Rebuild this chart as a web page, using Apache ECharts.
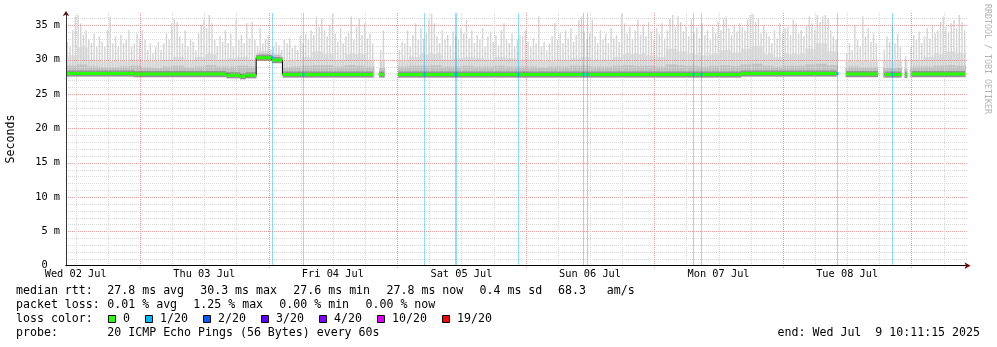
<!DOCTYPE html>
<html>
<head>
<meta charset="utf-8">
<title>Smokeping latency - 7 days</title>
<script src="https://cdn.jsdelivr.net/npm/echarts@6/dist/echarts.min.js"></script>
<style>
  html, body { margin: 0; padding: 0; background: #ffffff; }
  #chart { width: 997px; height: 347px; }
</style>
</head>
<body>
<div id="chart"></div>
<script>
// ---- time frame: hours after the window start (Wed 02 Jul 10:11:15) ----
const SPAN_HOURS = 168;
const SLOT_HOURS = 0.5;      // spacing of the ping-max samples
const BLOCK_HOURS = 2;       // spacing of the smoke body / core samples
const Y_MAX = 36.8;          // ms

const dayLabels = ['Wed 02 Jul', 'Thu 03 Jul', 'Fri 04 Jul', 'Sat 05 Jul', 'Sun 06 Jul', 'Mon 07 Jul', 'Tue 08 Jul'];
const firstNoon = 1.8125;      // Wed 02 Jul 12:00
const firstMidnight = 13.8125; // Thu 03 Jul 00:00

// median rtt in ms: [from hour, to hour, value]; missing stretches are left out
const medianSegments = [
  [0, 12.7, 28.0],
  [12.7, 29.9, 27.9],
  [29.9, 32.5, 27.75],
  [32.5, 33.5, 27.6],
  [33.5, 35.5, 27.75],
  [35.5, 38.4, 30.3],
  [38.4, 40.4, 29.95],
  [40.4, 57.3, 27.85],
  [58.4, 59.4, 27.85],
  [62.0, 126.0, 27.85],
  [126.0, 143.8, 28.0],
  [145.6, 151.6, 27.9],
  [152.8, 155.9, 27.85],
  [156.6, 157.0, 27.8],
  [157.9, 167.8, 27.9]
];

// slowest ping of each half hour (ms); null = no data
const smokeTop = [
  32.6,31.9,34.3,36.3,36.5,35.3,33.6,34.3,32.9,32.4,
  33.8,31.9,33.4,32.6,31.9,34.3,36.3,32.4,33.4,31.9,
  33.6,32.4,32.9,34.3,31.9,32.4,33.8,33.1,34.3,32.9,
  31.4,32.4,30.9,31.9,32.6,31.4,32.4,33.8,32.9,35.3,
  36.0,35.5,33.4,32.4,34.3,31.9,33.1,32.6,31.4,33.8,
  35.1,35.8,34.6,36.5,35.3,32.9,31.9,33.4,32.6,34.3,
  32.4,33.8,31.9,35.8,32.9,33.6,32.4,35.3,33.1,35.5,
  32.9,31.9,34.6,32.4,32.9,33.6,31.4,31.9,32.6,32.1,
  31.4,32.9,32.4,33.1,31.7,32.1,31.4,33.4,32.4,33.8,
  33.1,34.3,33.6,36.3,34.8,36.0,34.3,33.4,35.1,36.7,
  33.8,32.6,34.6,32.4,33.4,34.1,36.3,32.9,34.8,36.0,
  33.6,35.3,33.1,33.8,32.4,null,null,31.4,34.3,null,
  null,null,null,null,31.4,32.6,32.4,34.3,31.9,33.6,
  35.3,32.9,34.6,33.1,33.8,35.8,36.7,35.3,33.4,32.4,
  34.3,32.9,33.6,32.1,34.1,33.4,32.9,34.6,33.8,35.8,
  33.1,34.3,32.4,33.6,32.9,34.6,31.9,33.4,34.1,32.6,
  33.6,32.1,34.3,35.3,33.1,32.4,33.8,31.9,32.9,33.6,
  33.4,34.3,32.6,31.9,33.1,32.4,36.3,31.9,32.6,31.4,
  32.4,33.4,35.3,32.9,33.8,32.4,34.3,33.1,34.6,32.6,
  33.6,35.8,36.3,34.1,32.9,33.8,35.8,33.4,32.4,34.3,
  32.9,33.8,32.4,34.6,33.1,33.6,32.6,36.7,35.3,33.8,
  34.8,33.1,34.3,35.8,33.6,35.1,33.4,35.5,34.1,32.9,
  34.6,33.8,35.3,33.1,34.3,36.0,36.5,34.8,36.3,35.5,
  34.1,35.1,33.4,35.8,33.8,34.6,33.1,35.3,33.6,34.3,
  32.9,34.8,33.8,35.5,34.3,36.0,36.3,34.6,33.6,35.1,
  34.1,35.3,34.8,34.3,35.8,36.5,36.7,35.5,36.0,33.8,
  35.1,34.1,33.4,32.4,34.3,33.1,35.3,33.8,34.6,34.8,
  33.6,35.8,35.3,33.8,34.3,33.4,35.1,36.3,35.3,34.3,
  36.5,35.5,36.3,36.5,36.0,34.3,33.4,32.9,null,null,
  null,30.9,32.4,31.4,35.1,32.9,31.9,36.3,33.4,34.6,
  32.6,33.8,32.4,null,null,31.4,33.4,32.6,35.1,32.4,
  33.8,31.9,null,30.5,null,31.9,33.6,32.9,34.1,32.4,
  33.4,34.6,33.1,35.1,33.8,34.3,35.5,36.3,34.8,34.1,
  35.3,35.8,34.6,36.5,35.5,34.3
];

// upper edge of the continuous smoke, per two hours (ms)
const smokeBody = [
  30.6,31.8,30.0,29.8,29.8,29.8,30.0,29.8,29.8,30.0,
  30.4,29.8,30.4,30.8,30.0,30.2,30.4,30.0,31.3,30.9,
  29.8,29.8,30.4,31.2,30.8,30.0,30.8,30.8,30.0,29.8,
  null,29.8,30.4,30.8,30.8,30.0,30.2,30.4,30.2,30.0,
  30.4,30.2,30.0,30.0,29.8,29.8,30.0,30.2,30.4,30.0,
  30.0,30.4,30.8,30.8,30.6,30.4,31.6,31.2,30.8,30.6,
  30.8,31.4,31.0,31.6,32.0,30.8,30.4,30.8,30.8,31.6,
  32.4,31.2,29.8,29.8,29.8,29.8,29.8,29.8,29.8,30.0,
  30.4,30.8,31.2,31.0
];

// upper edge of the darker smoke around the median, per two hours (ms)
const smokeCore = [
  29.1,29.3,29.0,28.9,28.9,29.0,29.1,28.9,28.8,29.0,
  29.1,28.9,29.0,29.2,29.0,29.0,29.1,29.0,31.0,30.7,
  28.9,29.0,29.1,29.2,29.2,29.0,29.2,29.1,29.0,28.8,
  null,29.0,29.1,29.1,29.2,29.0,29.0,29.1,29.0,29.0,
  29.1,29.0,29.0,29.0,28.9,29.0,29.0,29.1,29.1,29.0,
  29.0,29.1,29.2,29.1,29.1,29.0,29.3,29.2,29.1,29.0,
  29.1,29.2,29.1,29.3,29.4,29.1,29.0,29.1,29.1,29.3,
  29.4,29.2,28.8,29.0,28.9,28.9,28.8,28.8,28.7,29.0,
  29.0,29.1,29.2,29.1
];

// packet loss events: [hour, pings lost out of 20]
const lossEvents = [
  [38.36, 1], [44.30, 1], [66.88, 1], [72.65, 1], [72.84, 1], [84.43, 1],
  [96.56, 1], [97.20, 1], [116.98, 1], [118.48, 1], [143.87, 1], [154.25, 1]
];
const lossLevels = [0, 1, 2, 3, 4, 10, 19];
const lossLabels = ['0', '1/20', '2/20', '3/20', '4/20', '10/20', '19/20'];
const lossColors = ['#26ff00', '#00b8ff', '#0059ff', '#5e00ff', '#7e00ff', '#dd00ff', '#ff0000'];

// summary lines under the graph
const rttStats = ['27.8 ms avg', '30.3 ms max', '27.6 ms min', '27.8 ms now', '0.4 ms sd', '68.3   am/s'];
const lossStats = ['0.01 % avg', '1.25 % max', '0.00 % min', '0.00 % now'];
const probeText = '20 ICMP Echo Pings (56 Bytes) every 60s';
const endText = 'end: Wed Jul  9 10:11:15 2025';

// ---- styling ----
const MONO = '"DejaVu Sans Mono", monospace';
const LEGEND_FONT = '11.6px ' + MONO;
const SMOKE_BELOW = 0.45;     // smoke reaches this far under the median (ms)
const GRID_MINOR = '#d8d8d8';
const GRID_MAJOR = '#e79a9a';
const GRID_DASH = [1, 1];

function medianAt(h) {
  let best = null, bestDist = Infinity;
  for (const [a, b, v] of medianSegments) {
    if (h >= a && h <= b) return v;
    const d = Math.min(Math.abs(h - a), Math.abs(h - b));
    if (d < bestDist) { bestDist = d; best = v; }
  }
  return best;
}

function lossColor(lost) {
  let idx = 0;
  lossLevels.forEach((lv, i) => { if (lost >= lv) idx = i; });
  return lossColors[idx];
}

// smoke table: [hour, top, body, core, median]
const smokeRows = [];
smokeTop.forEach((top, i) => {
  if (top == null) return;
  const h = (i + 0.5) * SLOT_HOURS;
  const b = Math.floor(h / BLOCK_HOURS);
  smokeRows.push([h, top, smokeBody[b], smokeCore[b], medianAt(h)]);
});

// median polyline (black joins) with breaks over missing data
const medianPath = [];
medianSegments.forEach((seg, i) => {
  const prev = medianSegments[i - 1];
  if (prev && prev[1] !== seg[0]) medianPath.push([prev[1], '-']);
  medianPath.push([seg[0], seg[2]], [seg[1], seg[2]]);
});

// grid rows
const labelHours = dayLabels.map((_, i) => firstNoon + 24 * i);
const vGridRows = [];
for (let h = firstNoon; h <= SPAN_HOURS; h += 6) {
  const major = Math.abs(((h - firstMidnight) % 24 + 24) % 24) < 1e-6 ? 1 : 0;
  vGridRows.push([h, major]);
}
const hGridRows = [];
for (let v = 1; v <= Math.floor(Y_MAX); v++) hGridRows.push([v, v % 5 === 0 ? 1 : 0]);

const lossRows = lossEvents.map(([h, lost]) => [h, lost, medianAt(h)]);

// ---- chart ----
const chart = echarts.init(document.getElementById('chart'), null, { renderer: 'canvas' });

const graphicEls = [];
function addText(text, x, y, extra) {
  graphicEls.push(Object.assign({
    type: 'text', x: x, y: y, silent: true,
    style: { text: text, font: LEGEND_FONT, fill: '#000', align: 'left', verticalAlign: 'middle' }
  }, extra || {}));
}

// vertical axis title and credit
graphicEls.push({ type: 'text', x: 11, y: 139, rotation: Math.PI / 2, silent: true,
  style: { text: 'Seconds', font: LEGEND_FONT, fill: '#000', align: 'center', verticalAlign: 'middle' } });
graphicEls.push({ type: 'text', x: 987, y: 4, rotation: -Math.PI / 2, silent: true,
  style: { text: 'RRDTOOL / TOBI OETIKER', font: '8.3px ' + MONO, fill: '#b4b4b4', align: 'left', verticalAlign: 'middle' } });

// summary rows
const colX = 16;
const rttX = [107.3, 200.2, 293.3, 386.5, 479.5, 558];
const lossX = [107.3, 193.3, 279.3, 365.5];
addText('median rtt:', colX, 291);
rttStats.forEach((t, i) => addText(t, rttX[i], 291));
addText('packet loss:', colX, 305);
lossStats.forEach((t, i) => addText(t, lossX[i], 305));
addText('loss color:', colX, 319);
let lx = 108.5;
lossLabels.forEach((lab, i) => {
  graphicEls.push({ type: 'rect', silent: true, shape: { x: lx, y: 315.5, width: 7, height: 7 },
    style: { fill: lossColors[i], stroke: '#000', lineWidth: 1 } });
  addText(lab, lx + 14.5, 319);
  lx += 14.5 + lab.length * 7.0 + 15.5;
});
addText('probe:', colX, 333);
addText(probeText, 107.3, 333);
graphicEls.push({ type: 'text', x: 980, y: 333, silent: true,
  style: { text: endText, font: LEGEND_FONT, fill: '#000', align: 'right', verticalAlign: 'middle' } });

const axisFont = { fontFamily: MONO, fontSize: 10.3, color: '#000' };

const option = {
  animation: false,
  backgroundColor: '#ffffff',
  grid: { left: 66, top: 13, width: 900, height: 252.7, containLabel: false },
  xAxis: [
    {
      type: 'value', min: 0, max: SPAN_HOURS, position: 'bottom', z: 10,
      axisLine: { show: true, onZero: false, lineStyle: { color: '#000', width: 1 } },
      axisTick: { show: false },
      splitLine: { show: false },
      axisLabel: Object.assign({
        customValues: labelHours,
        margin: 4,
        formatter: (v) => dayLabels[Math.round((v - firstNoon) / 24)] || ''
      }, axisFont)
    },
    {
      type: 'value', min: 0, max: SPAN_HOURS, position: 'bottom', z: 9,
      axisLine: { show: true, onZero: false, symbol: ['none', 'arrow'], symbolSize: [5, 6], symbolOffset: [0, 4.5],
        lineStyle: { color: '#7f0000', width: 1 } },
      axisTick: { show: false }, axisLabel: { show: false }, splitLine: { show: false }
    }
  ],
  yAxis: [
    {
      type: 'value', min: 0, max: Y_MAX, interval: 5, position: 'left', z: 10,
      axisLine: { show: true, onZero: false, lineStyle: { color: '#333', width: 1 } },
      axisTick: { show: false },
      splitLine: { show: false },
      axisLabel: Object.assign({
        margin: 6, showMaxLabel: false,
        formatter: (v) => (v === 0 ? '0  ' : v + ' m')
      }, axisFont)
    },
    {
      type: 'value', min: 0, max: Y_MAX, position: 'left', z: 9,
      axisLine: { show: true, onZero: false, symbol: ['none', 'arrow'], symbolSize: [5, 5], symbolOffset: [0, 2],
        lineStyle: { color: '#7f0000', width: 1 } },
      axisTick: { show: false }, axisLabel: { show: false }, splitLine: { show: false }
    }
  ],
  graphic: { elements: graphicEls },
  series: [
    {
      // smoke: spread of the 20 pings around the median
      name: 'smoke', type: 'custom', z: 2, clip: true,
      encode: { x: 0, y: 1 },
      data: smokeRows,
      renderItem(params, api) {
        const h = api.value(0), top = api.value(1), body = api.value(2), core = api.value(3), med = api.value(4);
        const w = api.size([SLOT_HOURS, 0])[0];
        const pFloor = api.coord([h, med - SMOKE_BELOW]);
        const pTop = api.coord([h, top]);
        const pBody = api.coord([h, Math.max(body, med + 0.5)]);
        const pCore = api.coord([h, Math.max(core, med + 0.35)]);
        const x0 = pFloor[0] - w / 2;
        return {
          type: 'group',
          children: [
            { type: 'rect', shape: { x: x0, y: pBody[1], width: w + 0.4, height: pFloor[1] - pBody[1] },
              style: { fill: '#e2e2e2' } },
            { type: 'rect', shape: { x: pTop[0] - 0.7, y: pTop[1], width: 1.4, height: pFloor[1] - pTop[1] },
              style: { fill: '#d3d3d3' } },
            { type: 'rect', shape: { x: x0, y: pCore[1], width: w + 0.4, height: pFloor[1] - pCore[1] },
              style: { fill: '#c0c0c0' } }
          ]
        };
      }
    },
    {
      // horizontal grid, every 1 ms, major every 5 ms
      name: 'hgrid', type: 'custom', z: 3, clip: false, silent: true,
      encode: { y: 0 },
      data: hGridRows,
      renderItem(params, api) {
        const v = api.value(0), major = api.value(1);
        const a = api.coord([0, v]), b = api.coord([SPAN_HOURS, v]);
        const y = Math.round(a[1]) + 0.5;
        return { type: 'line', shape: { x1: a[0], y1: y, x2: b[0] + 2, y2: y },
          style: { stroke: major ? GRID_MAJOR : GRID_MINOR, lineWidth: 1, lineDash: GRID_DASH } };
      }
    },
    {
      // vertical grid, every 6 hours, major at midnight
      name: 'vgrid', type: 'custom', z: 3, clip: false, silent: true,
      encode: { x: 0 },
      data: vGridRows,
      renderItem(params, api) {
        const h = api.value(0), major = api.value(1);
        const a = api.coord([h, 0]), b = api.coord([h, Y_MAX]);
        const x = Math.round(a[0]) + 0.5;
        return { type: 'line', shape: { x1: x, y1: b[1], x2: x, y2: a[1] + 3 },
          style: { stroke: major ? GRID_MAJOR : GRID_MINOR, lineWidth: 1, lineDash: GRID_DASH } };
      }
    },
    {
      // loss markers: full-height bars in the loss colour
      name: 'loss', type: 'custom', z: 4, clip: true, silent: true,
      encode: { x: 0 },
      data: lossRows,
      renderItem(params, api) {
        const h = api.value(0), lost = api.value(1);
        const a = api.coord([h, 0]), b = api.coord([h, Y_MAX]);
        const x = Math.round(a[0]) + 0.5;
        return { type: 'line', shape: { x1: x, y1: b[1], x2: x, y2: a[1] },
          style: { stroke: lossColor(lost), opacity: 0.45, lineWidth: 1 } };
      }
    },
    {
      // joins between median levels
      name: 'median-joins', type: 'line', z: 5, silent: true,
      data: medianPath, showSymbol: false, connectNulls: false,
      lineStyle: { color: '#000', width: 1 }
    },
    {
      // median rtt, coloured by loss (none here -> green)
      name: 'median', type: 'custom', z: 6, clip: true, silent: true,
      encode: { x: [0, 1], y: 2 },
      data: medianSegments,
      renderItem(params, api) {
        const s = api.value(0), e = api.value(1), v = api.value(2);
        const a = api.coord([s, v]), b = api.coord([e, v]);
        return {
          type: 'group',
          children: [
            { type: 'rect', shape: { x: a[0], y: a[1] - 3, width: b[0] - a[0], height: 6 },
              style: { fill: 'rgba(60,60,60,0.35)' } },
            { type: 'rect', shape: { x: a[0], y: a[1] - 1.5, width: b[0] - a[0], height: 3 },
              style: { fill: lossColors[0] } }
          ]
        };
      }
    },
    {
      // median pieces during loss
      name: 'median-loss', type: 'custom', z: 7, clip: true, silent: true,
      encode: { x: 0, y: 2 },
      data: lossRows,
      renderItem(params, api) {
        const h = api.value(0), lost = api.value(1), v = api.value(2);
        const p = api.coord([h, v]);
        return { type: 'rect', shape: { x: Math.round(p[0]) - 0.5, y: p[1] - 1.5, width: 2, height: 3 },
          style: { fill: lossColor(lost) } };
      }
    }
  ]
};

chart.setOption(option);
</script>
</body>
</html>
